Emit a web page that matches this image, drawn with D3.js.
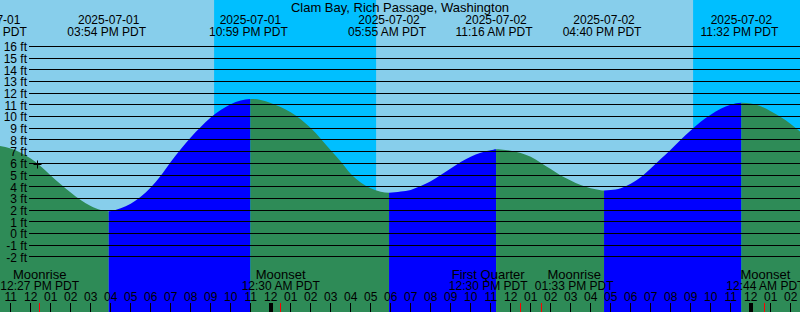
<!DOCTYPE html>
<html>
<head>
<meta charset="utf-8">
<script src="https://cdn.jsdelivr.net/npm/d3@7"></script>
<style>
  body { margin: 0; background: #87ceeb; }
  svg { display: block; font-family: 'Liberation Sans', Arial, sans-serif; font-size: 12px; }
  .wide { font-size: 13px; }
</style>
</head>
<body>
<div id="chart"></div>
<script>
var title = 'Clam Bay, Rich Passage, Washington'

// all times are hours counted from 2025-07-01 00:00 PDT
var tideHours = [10.465, 11, 11.5, 12, 12.5, 13, 13.5, 14, 14.5, 15, 15.5, 15.9,
  16.5, 17, 17.5, 18, 18.5, 19, 19.5, 20, 20.5, 21, 21.5, 22, 22.5, 22.983,
  23.5, 24, 24.5, 25, 25.5, 26, 26.5, 27, 27.5, 28, 28.5, 29, 29.5, 29.917,
  30.5, 31, 31.5, 32, 32.5, 33, 33.5, 34, 34.5, 35, 35.267,
  35.5, 36, 36.5, 37, 37.5, 38, 38.5, 39, 39.5, 40, 40.5, 40.667,
  41, 41.5, 42, 42.5, 43, 43.5, 44, 44.5, 45, 45.5, 46, 46.5, 47, 47.533,
  48, 48.5, 49, 49.5, 50, 50.5]
var tideFeet = [7.52, 7.3, 6.95, 6.45, 5.8, 5.0, 4.25, 3.55, 2.9, 2.4, 2.05, 1.95,
  2.2, 2.58, 3.18, 3.97, 4.98, 6.15, 7.25, 8.25, 9.15, 9.95, 10.6, 11.1, 11.42, 11.54,
  11.45, 11.2, 10.85, 10.4, 9.8, 9.05, 8.15, 7.15, 6.2, 5.15, 4.4, 3.9, 3.62, 3.53,
  3.63, 3.77, 4.1, 4.5, 5.05, 5.6, 6.15, 6.6, 6.95, 7.15, 7.24,
  7.22, 7.12, 6.93, 6.6, 6.1, 5.55, 5.0, 4.58, 4.18, 3.9, 3.75, 3.72,
  3.76, 3.92, 4.3, 4.85, 5.6, 6.4, 7.2, 8.05, 8.85, 9.6, 10.2, 10.7, 11.05, 11.22,
  11.15, 10.92, 10.5, 10.0, 9.4, 8.7]

// high / low tides
var eventHours = [9.95, 15.9, 22.983, 29.917, 35.267, 40.667, 47.533]
var eventKinds = ['high', 'low', 'high', 'low', 'high', 'low', 'high']
var eventDates = ['2025-07-01', '2025-07-01', '2025-07-01', '2025-07-02', '2025-07-02', '2025-07-02', '2025-07-02']
var eventClock = ['09:57 AM PDT', '03:54 PM PDT', '10:59 PM PDT', '05:55 AM PDT', '11:16 AM PDT', '04:40 PM PDT', '11:32 PM PDT']

// moon events
var moonHours = [12.45, 24.5, 36.5, 37.55, 48.733]
var moonNames = ['Moonrise', 'Moonset', 'First Quarter', 'Moonrise', 'Moonset']
var moonClock = ['12:27 PM PDT', '12:30 AM PDT', '12:30 PM PDT', '01:33 PM PDT', '12:44 AM PDT']

// sunset -> sunrise
var nightStart = [21.17, 45.12]
var nightEnd = [29.27, 53]

var footTicks = d3.range(-2, 17)
var markHour = 12.33
var markFeet = 6.0

var w = 800, h = 312

var x = d3.scaleLinear().domain([10.465, 50.465]).range([0, w])
var y = d3.scaleLinear().domain([-2, 16]).range([257.4, 46.8])

var svg = d3.select('#chart').append('svg')
    .attr('width', w)
    .attr('height', h)

// sky
svg.append('rect')
    .attr('width', w).attr('height', h)
    .attr('fill', '#87ceeb')
svg.selectAll('.night')
    .data(nightStart)
    .enter()
  .append('rect')
    .attr('class', 'night')
    .attr('x', function (d) { return x(d) })
    .attr('width', function (d, i) { return x(nightEnd[i]) - x(d) })
    .attr('y', 0).attr('height', h)
    .attr('fill', '#00bfff')

// water, clipped to the tide curve
var tide = tideHours.map(function (t, i) { return [t, tideFeet[i]] })
var area = d3.area()
    .x(function (d) { return x(d[0]) })
    .y0(h)
    .y1(function (d) { return y(d[1]) })
    .curve(d3.curveMonotoneX)

svg.append('clipPath')
    .attr('id', 'water')
  .append('path')
    .attr('d', area(tide))

var segs = eventHours.map(function (t, i) {
  return { from: t, to: i < eventHours.length - 1 ? eventHours[i + 1] : 60, rising: eventKinds[i] == 'low' }
})
segs.unshift({ from: 0, to: eventHours[0], rising: eventKinds[0] == 'high' })

svg.append('g')
    .attr('clip-path', 'url(#water)')
  .selectAll('rect')
    .data(segs)
    .enter()
  .append('rect')
    .attr('x', function (d) { return Math.max(-10, x(d.from)) })
    .attr('width', function (d) { return Math.max(0, Math.min(w + 10, x(d.to)) - Math.max(-10, x(d.from))) })
    .attr('y', 0).attr('height', h)
    .attr('fill', function (d) { return d.rising ? '#0000ff' : '#2e8b57' })

// foot grid
svg.append('g')
  .selectAll('line')
    .data(footTicks)
    .enter()
  .append('line')
    .attr('x1', 29).attr('x2', w)
    .attr('y1', function (d) { return Math.round(y(d)) - 0.5 })
    .attr('y2', function (d) { return Math.round(y(d)) - 0.5 })
    .attr('stroke', '#000')
    .attr('stroke-width', 1)

svg.append('g')
  .selectAll('text')
    .data(footTicks)
    .enter()
  .append('text')
    .attr('x', 27)
    .attr('y', function (d) { return y(d) })
    .attr('dy', '0.36em')
    .attr('text-anchor', 'end')
    .text(function (d) { return d + ' ft' })

// current mark
var mx = Math.round(x(markHour)) + 0.5, my = Math.round(y(markFeet)) + 0.5
svg.append('path')
    .attr('d', 'M' + (mx - 4) + ',' + my + 'H' + (mx + 4) + 'M' + mx + ',' + (my - 4) + 'V' + (my + 4))
    .attr('stroke', '#000')
    .attr('fill', 'none')

// header
svg.append('text')
    .attr('class', 'wide')
    .attr('x', w / 2).attr('y', 12)
    .attr('text-anchor', 'middle')
    .text(title)

var heads = svg.append('g')
  .selectAll('g')
    .data(eventHours)
    .enter()
  .append('g')
    .attr('transform', function (d) { return 'translate(' + x(d) + ',0)' })
heads.append('text')
    .attr('y', 23.5)
    .attr('text-anchor', 'middle')
    .text(function (d, i) { return eventDates[i] })
heads.append('text')
    .attr('x', -2)
    .attr('y', 35.5)
    .attr('text-anchor', 'middle')
    .text(function (d, i) { return eventClock[i] })

// moon labels, pushed apart when they collide
var moonX = moonHours.map(function (d) { return x(d) })
for (var i = 1; i < moonX.length; i++) {
  var gap = moonX[i] - moonX[i - 1]
  if (gap < 86) {
    moonX[i - 1] -= (86 - gap) / 2
    moonX[i] += (86 - gap) / 2
  }
}
var moons = svg.append('g')
  .selectAll('g')
    .data(moonX)
    .enter()
  .append('g')
    .attr('transform', function (d) { return 'translate(' + d + ',0)' })
moons.append('text')
    .attr('class', 'wide')
    .attr('y', 278.5)
    .attr('text-anchor', 'middle')
    .text(function (d, i) { return moonNames[i] })
moons.append('text')
    .attr('y', 289.5)
    .attr('text-anchor', 'middle')
    .text(function (d, i) { return moonClock[i] })

// hour axis
var hours = d3.range(Math.ceil(x.domain()[0]) - 1, Math.floor(x.domain()[1]) + 1)
function hourLabel(t) {
  var hr = t % 12 == 0 ? 12 : t % 12
  return (hr < 10 ? '0' : '') + hr
}
svg.append('g')
  .selectAll('text')
    .data(hours)
    .enter()
  .append('text')
    .attr('x', function (d) { return x(d) })
    .attr('y', 301)
    .attr('text-anchor', 'middle')
    .text(hourLabel)

svg.append('g')
  .selectAll('rect')
    .data(hours)
    .enter()
  .append('rect')
    .attr('x', function (d) { return d % 24 == 0 ? Math.round(x(d)) - 2 : Math.round(x(d)) - 1 })
    .attr('width', function (d) { return d % 24 == 0 ? 4 : 1 })
    .attr('y', 303)
    .attr('height', h - 303)
    .attr('fill', '#000')

svg.append('g')
  .selectAll('rect')
    .data(moonHours)
    .enter()
  .append('rect')
    .attr('x', function (d) { return Math.round(x(d)) - 1 })
    .attr('width', 1)
    .attr('y', 303)
    .attr('height', h - 303)
    .attr('fill', '#ff0000')
</script>
</body>
</html>
